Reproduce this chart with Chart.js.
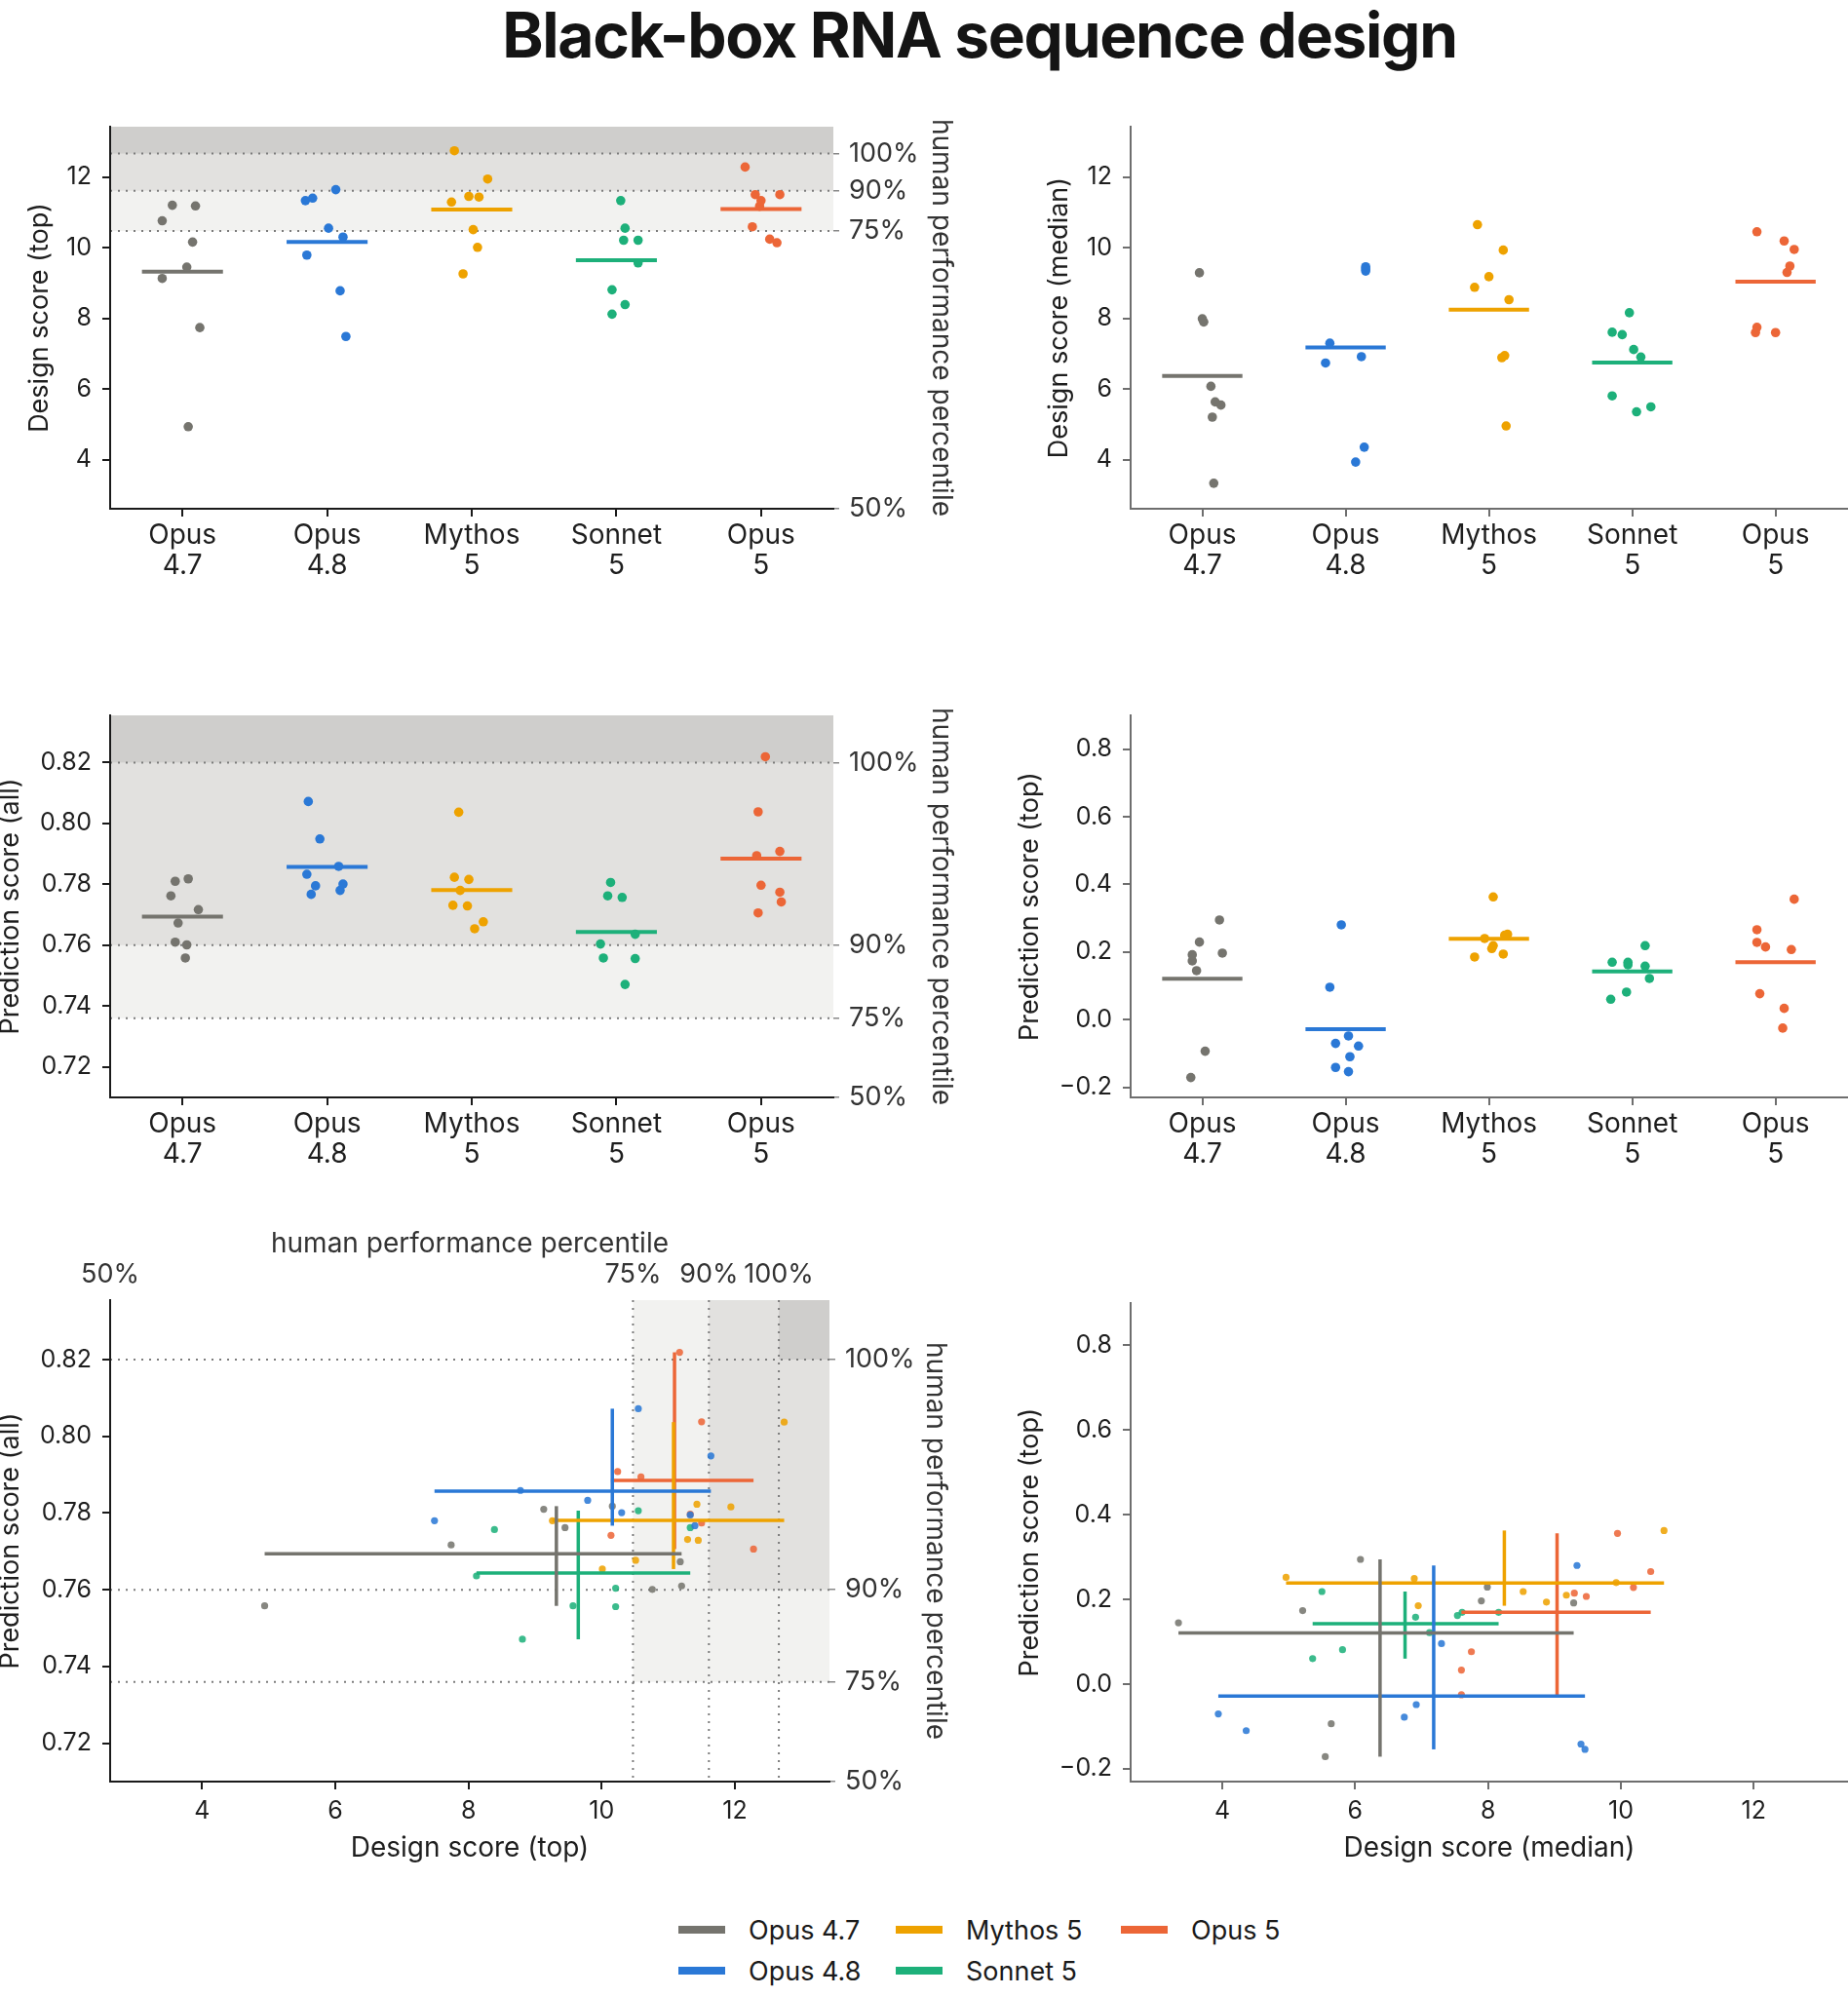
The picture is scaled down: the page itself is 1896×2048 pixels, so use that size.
<!DOCTYPE html>
<html>
<head>
<meta charset="utf-8">
<title>Black-box RNA sequence design</title>
<script src="https://cdn.jsdelivr.net/npm/chart.js@4.4.1/dist/chart.umd.min.js"></script>
<style>
  html, body { margin: 0; padding: 0; background: #fff; width: 1896px; height: 2048px; overflow: hidden; position: relative; }
  canvas { position: absolute; }
  #title { position: absolute; left: 505px; width: 1000px; top: 0px; text-align: center;
           font: bold 64px Inter, sans-serif; letter-spacing: -1.3px; line-height: 72px; color: #141414; white-space: nowrap; }
  #legend { position: absolute; left: 696px; top: 1959px; display: grid; grid-auto-flow: column;
            grid-template-rows: 42px 42px; grid-template-columns: 223px 231px auto;
            font: 27px Inter, sans-serif; color: #1a1a1a; }
  #legend .item { display: flex; align-items: center; }
  #legend .sw { width: 48px; height: 8px; margin-right: 24px; }
</style>
</head>
<body>
<div id="title">Black-box RNA sequence design</div>

<canvas id="c-top-design"></canvas>
<canvas id="c-median-design"></canvas>
<canvas id="c-all-pred"></canvas>
<canvas id="c-top-pred"></canvas>
<canvas id="c-scatter-all"></canvas>
<canvas id="c-scatter-top"></canvas>

<div id="legend"></div>

<script>
const models = ['Opus 4.7', 'Opus 4.8', 'Mythos 5', 'Sonnet 5', 'Opus 5'];
const catLabels = [['Opus', '4.7'], ['Opus', '4.8'], ['Mythos', '5'], ['Sonnet', '5'], ['Opus', '5']];
const colors = ['#75746e', '#2a78d6', '#eea200', '#1db07a', '#ec6637'];

// design score (top) and prediction score (all): same run order, paired in the bottom-left panel
const designTop = [
  [4.94, 7.74, 9.13, 9.45, 10.16, 10.76, 11.18, 11.20],
  [7.49, 8.78, 9.79, 10.30, 10.55, 11.33, 11.40, 11.64],
  [9.26, 10.01, 10.51, 11.29, 11.43, 11.45, 11.94, 12.74],
  [8.12, 8.39, 8.81, 9.57, 10.21, 10.21, 10.55, 11.33],
  [10.14, 10.24, 10.59, 11.17, 11.33, 11.50, 11.50, 12.28]
];
const predAll = [
  [0.7558, 0.7717, 0.7810, 0.7762, 0.7818, 0.7601, 0.7673, 0.7610],
  [0.7780, 0.7859, 0.7833, 0.7801, 0.8072, 0.7795, 0.7767, 0.7949],
  [0.7780, 0.7654, 0.7677, 0.7731, 0.7823, 0.7729, 0.7816, 0.8037],
  [0.7636, 0.7757, 0.7471, 0.7558, 0.7604, 0.7556, 0.7806, 0.7762],
  [0.7742, 0.7908, 0.7894, 0.8219, 0.7797, 0.8038, 0.7774, 0.7706]
];
// design score (median) and prediction score (top): paired in the bottom-right panel
const designMedian = [
  [3.34, 5.21, 5.55, 5.64, 6.08, 7.90, 7.99, 9.29],
  [3.94, 4.36, 6.74, 6.92, 7.30, 9.34, 9.40, 9.46],
  [4.96, 6.89, 6.95, 8.53, 8.88, 9.18, 9.93, 10.65],
  [5.36, 5.50, 5.81, 6.91, 7.12, 7.54, 7.61, 8.16],
  [7.60, 7.60, 7.75, 9.30, 9.48, 9.95, 10.19, 10.45]
];
const predTop = [
  [0.1449, 0.1737, -0.1712, -0.0934, 0.2947, 0.1967, 0.2294, 0.1919],
  [-0.0703, -0.1097, -0.0780, -0.0482, 0.0959, 0.2803, -0.1414, -0.1539],
  [0.2524, 0.2495, 0.1852, 0.2188, 0.1939, 0.2102, 0.2400, 0.3629],
  [0.0603, 0.2188, 0.0815, 0.1583, 0.1218, 0.1622, 0.1698, 0.1698],
  [0.0334, -0.0251, 0.0767, 0.2150, 0.2073, 0.3562, 0.2285, 0.2659]
];
// sideways spread of the dots in the strip panels, in category units
const jitterDesignTop = [
  [0.04, 0.12, -0.14, 0.03, 0.07, -0.14, 0.09, -0.07],
  [0.13, 0.09, -0.14, 0.11, 0.01, -0.15, -0.10, 0.06],
  [-0.06, 0.04, 0.01, -0.14, 0.05, -0.02, 0.11, -0.12],
  [-0.03, 0.06, -0.03, 0.15, 0.05, 0.15, 0.06, 0.03],
  [0.11, 0.06, -0.06, -0.01, 0, -0.04, 0.13, -0.11]
];
const jitterPredAll = [
  [0.02, 0.11, -0.05, -0.08, 0.04, 0.03, -0.03, -0.05],
  [0.09, 0.08, -0.14, 0.11, -0.13, -0.08, -0.11, -0.05],
  [-0.08, 0.02, 0.08, -0.13, -0.12, -0.03, -0.02, -0.09],
  [0.13, 0.04, 0.06, -0.09, -0.11, 0.13, -0.04, -0.06],
  [0.14, 0.13, -0.03, 0.03, 0, -0.02, 0.13, -0.02]
];
const jitterDesignMedian = [
  [0.08, 0.07, 0.13, 0.09, 0.06, 0.01, 0, -0.02],
  [0.07, 0.13, -0.14, 0.11, -0.11, 0.14, 0.14, 0.14],
  [0.12, 0.09, 0.11, 0.14, -0.10, 0, 0.10, -0.08],
  [0.03, 0.13, -0.14, 0.06, 0.01, -0.07, -0.14, -0.02],
  [-0.14, 0, -0.13, 0.08, 0.10, 0.13, 0.06, -0.13]
];
const jitterPredTop = [
  [-0.04, -0.07, -0.08, 0.02, 0.12, 0.14, -0.02, -0.07],
  [-0.07, 0.03, 0.09, 0.02, -0.11, -0.03, -0.07, 0.02],
  [0.13, 0.11, -0.10, 0.03, 0.10, 0.02, -0.03, 0.03],
  [-0.15, 0.09, -0.04, 0.09, 0.12, -0.03, -0.14, -0.03],
  [0.06, 0.05, -0.11, -0.07, 0.11, 0.13, -0.13, -0.13]
];

// human performance percentile thresholds (75%, 90%, 100%); 50% sits at the axis minimum
const pctLabels = ['50%', '75%', '90%', '100%'];
const designTopPct = [10.47, 11.61, 12.66];
const predAllPct = [0.736, 0.760, 0.820];

const designRange = [2.62, 13.42];
const predAllRange = [0.7100, 0.8355];
const predTopRange = [-0.23, 0.90];
const designTicks = [4, 6, 8, 10, 12];
const predAllTicks = [0.72, 0.74, 0.76, 0.78, 0.80, 0.82];
const predTopTicks = [-0.2, 0.0, 0.2, 0.4, 0.6, 0.8];

Chart.defaults.font.family = "Inter, 'DejaVu Sans', sans-serif";
Chart.defaults.font.size = 25;
Chart.defaults.font.lineHeight = 1.2;
Chart.defaults.color = '#1e1e1e';
Chart.defaults.animation = false;

const shades = ['#f2f2f0', '#e2e1df', '#cfcecc'];
const mean = a => a.reduce((s, v) => s + v, 0) / a.length;
const fmtDesign = v => String(v);
const fmtAll = v => v.toFixed(2);
const fmtTop = v => v.toFixed(1).replace('-', '\u2212');

// grey bands + dotted percentile lines behind everything
const bandPlugin = {
  id: 'bands',
  beforeDraw(chart, args, opts) {
    if (!opts.y) return;
    const { ctx, chartArea: a, scales } = chart;
    ctx.save();
    for (let i = 0; i < 3; i++) {
      const py = scales.y.getPixelForValue(opts.y[i]);
      const px = opts.x ? scales.x.getPixelForValue(opts.x[i]) : a.left;
      ctx.fillStyle = shades[i];
      ctx.fillRect(px, a.top, a.right - px, py - a.top);
    }
    ctx.setLineDash([2, 6]);
    ctx.lineWidth = 2;
    ctx.strokeStyle = '#7c7c7c';
    opts.y.forEach(v => {
      const p = scales.y.getPixelForValue(v);
      ctx.beginPath(); ctx.moveTo(a.left, p); ctx.lineTo(a.right, p); ctx.stroke();
    });
    (opts.x || []).forEach(v => {
      const p = scales.x.getPixelForValue(v);
      ctx.beginPath(); ctx.moveTo(p, a.top); ctx.lineTo(p, a.bottom); ctx.stroke();
    });
    ctx.restore();
  }
};

function place(id, left, top, width, height) {
  const c = document.getElementById(id);
  c.width = width; c.height = height;
  c.style.left = left + 'px'; c.style.top = top + 'px';
  c.style.width = width + 'px'; c.style.height = height + 'px';
  return c;
}

function valueAxis(position, range, ticks, fmt, title, size, titlePad, dark) {
  const col = dark ? '#1a1a1a' : '#6e6e6e';
  const horiz = position === 'bottom';
  return {
    type: 'linear', position, min: range[0], max: range[1],
    afterBuildTicks: s => { s.ticks = ticks.map(v => ({ value: v })); },
    ticks: { callback: v => fmt(v), padding: horiz ? 7 : 11, autoSkip: false, maxRotation: 0 },
    grid: { drawOnChartArea: false, drawTicks: true, tickLength: 8, color: col, lineWidth: 2 },
    border: { display: true, color: col, width: 2 },
    title: { display: !!title, text: title, color: '#1e1e1e', font: { size: horiz ? 28 : 27 },
             padding: { top: titlePad, bottom: titlePad } },
    afterFit: s => { if (s.isHorizontal()) s.height = size; else s.width = size; }
  };
}

function categoryAxis(size, dark) {
  const col = dark ? '#1a1a1a' : '#6e6e6e';
  return {
    type: 'linear', position: 'bottom', min: -0.5, max: 4.5,
    afterBuildTicks: s => { s.ticks = models.map((m, i) => ({ value: i })); },
    ticks: { callback: v => catLabels[v], padding: 4, autoSkip: false, maxRotation: 0,
             font: { size: 28, lineHeight: 1.12 } },
    grid: { drawOnChartArea: false, drawTicks: true, tickLength: 8, color: col, lineWidth: 2 },
    border: { display: true, color: col, width: 2 },
    afterFit: s => { s.height = size; }
  };
}

function pctAxis(position, range, pct, size, titlePad, labelPad) {
  const vals = [range[0]].concat(pct);
  const horiz = position === 'top';
  return {
    type: 'linear', position, min: range[0], max: range[1],
    afterBuildTicks: s => { s.ticks = vals.map(v => ({ value: v })); },
    ticks: { callback: (v, i) => pctLabels[i], color: '#333', padding: labelPad, autoSkip: false, maxRotation: 0,
             font: { size: 27 } },
    grid: { display: !horiz, drawOnChartArea: false, drawTicks: true, tickLength: 6, color: '#888', lineWidth: 1.5 },
    border: { display: false },
    title: { display: true, text: 'human performance percentile', color: '#333', font: { size: 28 },
             padding: { top: titlePad, bottom: 0 } },
    afterFit: s => { if (s.isHorizontal()) s.height = size; else s.width = size; }
  };
}

function stripDatasets(values, jitter) {
  const pts = models.map((m, i) => ({
    label: m,
    data: values[i].map((v, k) => ({ x: i + jitter[i][k], y: v })),
    backgroundColor: colors[i], borderWidth: 0, pointRadius: 4.8, clip: false
  }));
  const lines = models.map((m, i) => {
    const mu = mean(values[i]);
    return {
      label: m + ' mean',
      data: [{ x: i - 0.28, y: mu }, { x: i + 0.28, y: mu }],
      showLine: true, borderColor: colors[i], borderWidth: 4, pointRadius: 0, clip: false
    };
  });
  return pts.concat(lines); // dots on top of the mean bars
}

function scatterDatasets(xs, ys) {
  const lines = [];
  models.forEach((m, i) => {
    const mx = mean(xs[i]), my = mean(ys[i]);
    lines.push({
      label: m + ' x-range',
      data: [{ x: Math.min(...xs[i]), y: my }, { x: Math.max(...xs[i]), y: my }],
      showLine: true, borderColor: colors[i], borderWidth: 3.5, pointRadius: 0, clip: false
    });
    lines.push({
      label: m + ' y-range',
      data: [{ x: mx, y: Math.min(...ys[i]) }, { x: mx, y: Math.max(...ys[i]) }],
      showLine: true, borderColor: colors[i], borderWidth: 3.5, pointRadius: 0, clip: false
    });
  });
  const pts = models.map((m, i) => ({
    label: m,
    data: xs[i].map((v, k) => ({ x: v, y: ys[i][k] })),
    backgroundColor: colors[i] + 'dd', borderWidth: 0, pointRadius: 3.6, clip: false
  }));
  return lines.concat(pts);
}

function baseOptions(scales, padTop, bands) {
  return {
    responsive: false, animation: false,
    layout: { padding: { top: padTop, left: 0, right: 0, bottom: 0 } },
    plugins: { legend: { display: false }, tooltip: { enabled: false }, bands: bands || {} },
    scales
  };
}

// row 1: design score (top) with percentile bands | design score (median)
new Chart(place('c-top-design', -30, 100, 1020, 520), {
  type: 'scatter',
  data: { datasets: stripDatasets(designTop, jitterDesignTop) },
  options: baseOptions({
    x: categoryAxis(98, true),
    y: valueAxis('left', designRange, designTicks, fmtDesign, 'Design score (top)', 143, 55, true),
    yR: pctAxis('right', designRange, designTopPct, 135, 8, 10)
  }, 30, { y: designTopPct }),
  plugins: [bandPlugin]
});

new Chart(place('c-median-design', 1020, 100, 880, 520), {
  type: 'scatter',
  data: { datasets: stripDatasets(designMedian, jitterDesignMedian) },
  options: baseOptions({
    x: categoryAxis(98, false),
    y: valueAxis('left', designRange, designTicks, fmtDesign, 'Design score (median)', 140, 51, false)
  }, 30)
});

// row 2: prediction score (all) with percentile bands | prediction score (top)
new Chart(place('c-all-pred', -30, 704, 1020, 520), {
  type: 'scatter',
  data: { datasets: stripDatasets(predAll, jitterPredAll) },
  options: baseOptions({
    x: categoryAxis(98, true),
    y: valueAxis('left', predAllRange, predAllTicks, fmtAll, 'Prediction score (all)', 143, 25, true),
    yR: pctAxis('right', predAllRange, predAllPct, 135, 8, 10)
  }, 30, { y: predAllPct }),
  plugins: [bandPlugin]
});

new Chart(place('c-top-pred', 1020, 704, 880, 520), {
  type: 'scatter',
  data: { datasets: stripDatasets(predTop, jitterPredTop) },
  options: baseOptions({
    x: categoryAxis(98, false),
    y: valueAxis('left', predTopRange, predTopTicks, fmtTop, 'Prediction score (top)', 140, 21, false)
  }, 30)
});

// row 3: the two scores against each other, mean cross with min-max arms
new Chart(place('c-scatter-all', -30, 1250, 1020, 680), {
  type: 'scatter',
  data: { datasets: scatterDatasets(designTop, predAll) },
  options: baseOptions({
    x: valueAxis('bottom', designRange, designTicks, fmtDesign, 'Design score (top)', 102, 17, true),
    x2: pctAxis('top', designRange, designTopPct, 84, 10, 4),
    y: valueAxis('left', predAllRange, predAllTicks, fmtAll, 'Prediction score (all)', 143, 25, true),
    yR: pctAxis('right', predAllRange, predAllPct, 139, 14, 10)
  }, 0, { y: predAllPct, x: designTopPct }),
  plugins: [bandPlugin]
});

new Chart(place('c-scatter-top', 1020, 1307, 880, 623), {
  type: 'scatter',
  data: { datasets: scatterDatasets(designMedian, predTop) },
  options: baseOptions({
    x: valueAxis('bottom', designRange, designTicks, fmtDesign, 'Design score (median)', 102, 17, false),
    y: valueAxis('left', predTopRange, predTopTicks, fmtTop, 'Prediction score (top)', 140, 21, false)
  }, 30)
});

// legend, filled column by column like the reference
const legend = document.getElementById('legend');
models.forEach((m, i) => {
  const item = document.createElement('div');
  item.className = 'item';
  const sw = document.createElement('span');
  sw.className = 'sw';
  sw.style.background = colors[i];
  const tx = document.createElement('span');
  tx.textContent = m;
  item.appendChild(sw);
  item.appendChild(tx);
  legend.appendChild(item);
});
</script>
</body>
</html>
